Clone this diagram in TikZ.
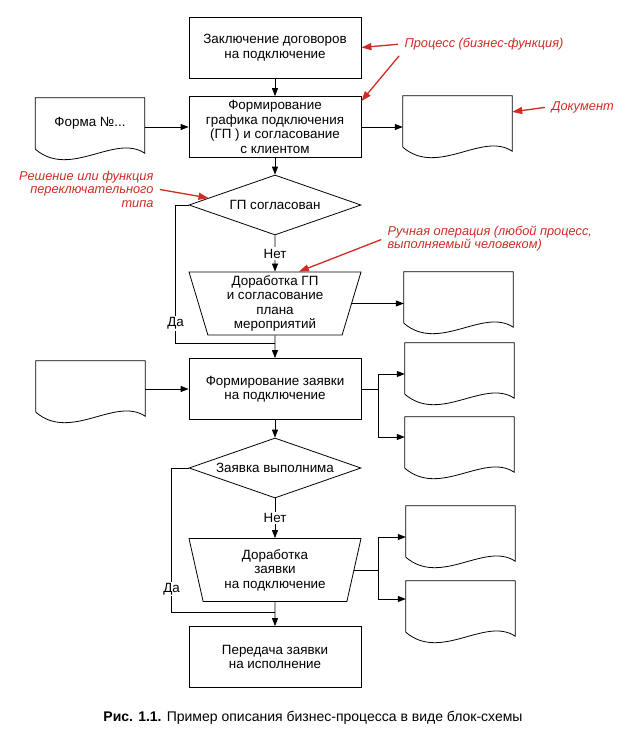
\documentclass[tikz,border=0pt]{standalone}
\usepackage{fontspec}
\setmainfont{Liberation Sans}
\usetikzlibrary{shapes.geometric, arrows.meta, calc}
\definecolor{notered}{RGB}{205,45,35}

% document shape: rectangle with a wavy bottom
\newcommand{\docshape}[1]{%
    \draw[ln] (#1.south west) -- (#1.north west) -- (#1.north east) -- ([yshift=-4pt]#1.south east)
    .. controls +(-30,-20) and +(35,30) .. (#1.south west);}

\begin{document}
\begin{tikzpicture}[
        x=1pt, y=-1pt,
        every node/.style={font=\fontsize{13.4}{14.5}\selectfont, align=center},
        proc/.style={draw, line width=0.8pt, rectangle, minimum width=172pt, minimum height=61pt, inner sep=2pt},
        decis/.style={draw, line width=0.8pt, diamond, aspect=2.9, minimum width=172pt, minimum height=60pt, inner sep=1pt},
        manop/.style={draw, line width=0.8pt, trapezium, shape border rotate=180, trapezium left angle=72,
            trapezium right angle=72, trapezium stretches body, minimum width=172pt, minimum height=63pt, inner sep=1pt},
        doc/.style={minimum width=109pt, minimum height=51pt, inner sep=0pt},
        lbl/.style={fill=white, inner sep=1.5pt},
        note/.style={font=\fontsize{12.8}{13.5}\selectfont\itshape, text=notered},
        ln/.style={line width=0.8pt},
        ar/.style={-{Triangle[length=8pt, width=6pt]}, line width=0.8pt},
        notear/.style={-{Triangle[length=10pt, width=7pt]}, line width=1.3pt, draw=notered, fill=notered, shorten <=3pt},
    ]
    \useasboundingbox (0,0) rectangle (619,735);

    % main column
    \node[proc](contract) at (275,47.5) {Заключение договоров\\на подключение};
    \node[proc](schedule) at (275,127) {Формирование\\графика подключения\\(ГП ) и согласование\\с клиентом};
    \node[decis](agreed) at (275,205) {ГП согласован};
    \node[manop](rework) at (275,303.5) {Доработка ГП\\и согласование\\плана\\мероприятий};
    \node[proc](request) at (275,389) {Формирование заявки\\на подключение};
    \node[decis](feasible) at (275,468) {Заявка выполнима};
    \node[manop](fix) at (275,570) {Доработка\\заявки\\на подключение};
    \node[proc](handover) at (275,657) {Передача заявки\\на исполнение};

    % documents
    \node[doc](formin) at (90,123.5) {Форма №...};
    \node[doc](docout) at (457.5,121.5) {};
    \node[doc](docrework) at (458.5,297.5) {};
    \node[doc](formreq) at (90.5,386.5) {};
    \node[doc](docreqa) at (459.5,368.5) {};
    \node[doc](docreqb) at (459.5,442.5) {};
    \node[doc](docfixa) at (460.5,531.5) {};
    \node[doc](docfixb) at (460.5,606.5) {};
    \foreach \d in {formin, docout, docrework, formreq, docreqa, docreqb, docfixa, docfixb}
        \docshape{\d};

    \coordinate (join1) at (275,343);
    \coordinate (join2) at (275,612);
    \coordinate (branch1) at (378,389);
    \coordinate (branch2) at (378,570.5);

    \path[ar]
    (contract) edge (schedule)
    (schedule) edge (agreed)
    (agreed) edge node[lbl]{Нет} (rework)
    (rework) edge (request)
    (request) edge (feasible)
    (feasible) edge node[lbl]{Нет} (fix)
    (fix) edge (handover)
    ;
    \draw[ar] (formin.east |- schedule.west) -- (schedule.west);
    \draw[ar] (schedule.east) -- (schedule.east -| docout.west);
    \draw[ar] (rework.east) -- (rework.east -| docrework.west);
    \draw[ar] (formreq.east |- request.west) -- (request.west);

    % branches to two documents
    \draw[ln] (request.east) -- (branch1);
    \draw[ar] (branch1) |- ([yshift=-5.5pt]docreqa.west);
    \draw[ar] (branch1) |- ([yshift=5.5pt]docreqb.west);
    \draw[ln] (fix.east |- branch2) -- (branch2);
    \draw[ar] (branch2) |- ([yshift=-5.5pt]docfixa.west);
    \draw[ar] (branch2) |- ([yshift=7.5pt]docfixb.west);

    % yes loops
    \draw[ln] (agreed.west) -- ++(-13,0) |- node[lbl, pos=0.43]{Да} (join1);
    \draw[ln] (feasible.west) -- ++(-17,0) |- node[lbl, pos=0.42]{Да} (join2);

    % notes
    \node[note, align=left, anchor=west](proclbl) at (401,44) {Процесс (бизнес-функция)};
    \node[note, anchor=west](doclbl) at (548,107) {Документ};
    \node[note, align=right, anchor=east](declbl) at (157,189) {Решение или функция\\переключательного\\типа};
    \node[note, align=left, anchor=west](manlbl) at (384,238.5) {Ручная операция (любой процесс,\\выполняемый человеком)};

    \draw[notear] (proclbl.west) -- (contract.east);
    \draw[notear] (proclbl.south west) -- ([yshift=-5pt]schedule.north east);
    \draw[notear] (doclbl.west) -- (docout.10);
    \draw[notear] (declbl.east) -- ($(agreed.west)!0.23!(agreed.north)$);
    \draw[notear] (manlbl.west) -- ($(rework.north)!0.75!(rework.north east)$);

    \node[font=\fontsize{14}{16}\selectfont](caption) at (313,718) {\textbf{Рис. 1.1.} Пример описания бизнес-процесса в виде блок-схемы};
\end{tikzpicture}
\end{document}
